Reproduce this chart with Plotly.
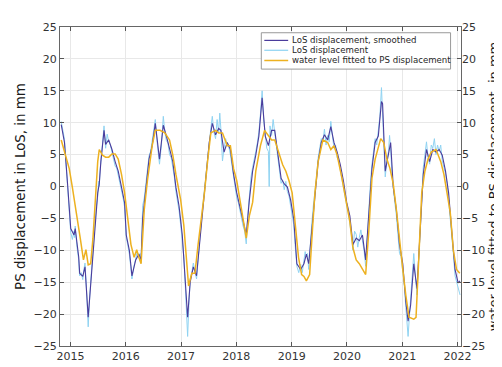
import plotly.graph_objects as go

# ---- data (decimal years, mm) ----
smooth_t = [2014.833, 2014.892, 2014.948, 2015.005, 2015.064, 2015.086, 2015.149, 2015.167, 2015.223, 2015.263,
            2015.321, 2015.378, 2015.435, 2015.493, 2015.521, 2015.550, 2015.607, 2015.636, 2015.692, 2015.751,
            2015.808, 2015.864, 2015.923, 2015.979, 2016.009, 2016.065, 2016.112, 2016.180, 2016.237, 2016.277,
            2016.306, 2016.363, 2016.421, 2016.478, 2016.534, 2016.610, 2016.679, 2016.735, 2016.792, 2016.851,
            2016.907, 2016.964, 2017.022, 2017.079, 2017.119, 2017.165, 2017.222, 2017.280, 2017.337, 2017.393,
            2017.452, 2017.509, 2017.565, 2017.624, 2017.680, 2017.720, 2017.778, 2017.835, 2017.892, 2017.950,
            2018.007, 2018.064, 2018.122, 2018.179, 2018.235, 2018.294, 2018.351, 2018.407, 2018.466, 2018.522,
            2018.579, 2018.637, 2018.694, 2018.751, 2018.809, 2018.866, 2018.923, 2018.981, 2019.038, 2019.094,
            2019.163, 2019.222, 2019.266, 2019.308, 2019.364, 2019.421, 2019.479, 2019.536, 2019.593, 2019.651,
            2019.708, 2019.765, 2019.823, 2019.880, 2019.936, 2019.995, 2020.052, 2020.108, 2020.167, 2020.223,
            2020.280, 2020.338, 2020.395, 2020.452, 2020.510, 2020.567, 2020.624, 2020.644, 2020.692, 2020.751,
            2020.790, 2020.837, 2020.893, 2020.950, 2021.009, 2021.065, 2021.105, 2021.151, 2021.208, 2021.266,
            2021.323, 2021.380, 2021.438, 2021.495, 2021.552, 2021.610, 2021.667, 2021.723, 2021.782, 2021.838,
            2021.895, 2021.954, 2022.010, 2022.045]
smooth_v = [9.7, 6.9, 0.4, -6.6, -7.6, -6.6, -11.0, -13.6, -14.1, -12.6,
            -20.5, -13.6, -7.0, -1.0, 0.4, 3.9, 8.8, 6.6, 7.3, 5.8,
            3.9, 2.4, -0.1, -2.5, -7.6, -10.0, -14.0, -11.5, -10.6, -11.5,
            -5.0, -0.1, 4.3, 6.4, 9.9, 4.3, 9.6, 7.9, 5.8, 3.9,
            -0.1, -3.1, -7.6, -15.0, -20.5, -15.0, -12.6, -14.0, -8.5, -3.6,
            1.3, 6.9, 9.9, 8.1, 9.1, 8.8, 5.4, 6.9, 5.8, 1.9,
            -1.0, -3.1, -5.5, -7.6, -2.1, 2.4, 4.9, 7.9, 13.9, 7.9,
            6.4, 8.8, 8.8, 5.4, 1.3, 0.4, -0.1, -2.1, -5.1, -12.1,
            -13.0, -12.1, -10.6, -12.1, -6.6, -2.1, 3.9, 6.9, 8.1, 7.3,
            9.4, 6.9, 5.4, 3.4, 0.9, -2.5, -4.6, -9.1, -8.1, -8.5,
            -7.6, -11.5, -3.6, 2.8, 6.9, 7.9, 13.3, 13.0, 2.4, 4.9,
            6.9, -0.1, -3.6, -9.1, -12.1, -18.1, -21.1, -18.6, -12.1, -16.0,
            -7.0, 1.9, 5.8, 3.9, 5.8, 5.4, 5.8, 4.9, 2.4, -1.0,
            -7.0, -13.0, -15.1, -14.8]

raw_t = [2014.833, 2014.862, 2014.892, 2014.920, 2014.948, 2014.977, 2015.005, 2015.035, 2015.064, 2015.075,
         2015.086, 2015.118, 2015.149, 2015.158, 2015.167, 2015.195, 2015.223, 2015.243, 2015.263, 2015.292,
         2015.321, 2015.350, 2015.378, 2015.406, 2015.435, 2015.464, 2015.493, 2015.507, 2015.521, 2015.535,
         2015.550, 2015.578, 2015.607, 2015.621, 2015.636, 2015.664, 2015.692, 2015.722, 2015.751, 2015.780,
         2015.808, 2015.836, 2015.864, 2015.894, 2015.923, 2015.951, 2015.979, 2015.994, 2016.009, 2016.037,
         2016.065, 2016.089, 2016.112, 2016.146, 2016.180, 2016.208, 2016.237, 2016.257, 2016.277, 2016.292,
         2016.306, 2016.335, 2016.363, 2016.392, 2016.421, 2016.450, 2016.478, 2016.506, 2016.534, 2016.572,
         2016.610, 2016.645, 2016.679, 2016.707, 2016.735, 2016.763, 2016.792, 2016.822, 2016.851, 2016.879,
         2016.907, 2016.935, 2016.964, 2016.993, 2017.022, 2017.050, 2017.079, 2017.099, 2017.119, 2017.142,
         2017.165, 2017.193, 2017.222, 2017.251, 2017.280, 2017.308, 2017.337, 2017.365, 2017.393, 2017.422,
         2017.452, 2017.480, 2017.509, 2017.537, 2017.565, 2017.595, 2017.624, 2017.652, 2017.680, 2017.700,
         2017.720, 2017.749, 2017.778, 2017.806, 2017.835, 2017.864, 2017.892, 2017.921, 2017.950, 2017.978,
         2018.007, 2018.035, 2018.064, 2018.093, 2018.122, 2018.150, 2018.179, 2018.207, 2018.235, 2018.265,
         2018.294, 2018.322, 2018.351, 2018.379, 2018.407, 2018.437, 2018.466, 2018.494, 2018.522, 2018.550,
         2018.579, 2018.594, 2018.608, 2018.637, 2018.665, 2018.694, 2018.722, 2018.751, 2018.780, 2018.809,
         2018.837, 2018.866, 2018.894, 2018.923, 2018.952, 2018.981, 2019.009, 2019.038, 2019.066, 2019.094,
         2019.128, 2019.163, 2019.192, 2019.222, 2019.244, 2019.266, 2019.287, 2019.308, 2019.336, 2019.364,
         2019.392, 2019.421, 2019.450, 2019.479, 2019.507, 2019.536, 2019.565, 2019.593, 2019.622, 2019.651,
         2019.679, 2019.708, 2019.736, 2019.765, 2019.794, 2019.823, 2019.851, 2019.880, 2019.908, 2019.936,
         2019.966, 2019.995, 2020.023, 2020.052, 2020.080, 2020.108, 2020.137, 2020.167, 2020.195, 2020.223,
         2020.251, 2020.280, 2020.309, 2020.338, 2020.366, 2020.395, 2020.424, 2020.452, 2020.481, 2020.510,
         2020.538, 2020.567, 2020.595, 2020.624, 2020.644, 2020.668, 2020.692, 2020.722, 2020.751, 2020.770,
         2020.790, 2020.813, 2020.837, 2020.865, 2020.893, 2020.921, 2020.950, 2020.979, 2021.009, 2021.037,
         2021.065, 2021.085, 2021.105, 2021.128, 2021.151, 2021.180, 2021.208, 2021.237, 2021.266, 2021.294,
         2021.323, 2021.352, 2021.380, 2021.409, 2021.438, 2021.466, 2021.495, 2021.524, 2021.552, 2021.581,
         2021.610, 2021.638, 2021.667, 2021.695, 2021.723, 2021.752, 2021.782, 2021.810, 2021.838, 2021.866,
         2021.895, 2021.924, 2021.954, 2021.982, 2022.010, 2022.045]
raw_v = [10.2, 8.5, 7.4, 3.5, 0.0, -4.0, -7.2, -8.3, -7.0, -8.0,
         -6.2, -9.5, -11.5, -13.2, -14.0, -13.5, -14.6, -13.0, -12.0, -16.5,
         -22.0, -17.0, -13.0, -9.5, -6.5, -3.5, -1.5, 0.8, 0.0, 2.5,
         4.5, 6.5, 9.5, 7.0, 6.0, 8.2, 7.0, 6.5, 5.2, 4.5,
         3.2, 2.9, 1.8, 0.8, -0.6, -1.8, -3.2, -5.5, -8.0, -9.2,
         -10.6, -12.5, -14.5, -12.6, -11.0, -10.2, -11.0, -10.5, -12.0, -8.0,
         -3.0, -1.8, 0.5, 2.5, 4.8, 5.5, 7.0, 8.5, 10.5, 6.5,
         3.5, 6.5, 11.0, 8.5, 7.2, 6.8, 5.0, 4.5, 3.2, 1.5,
         -0.8, -2.0, -3.8, -6.0, -8.5, -11.0, -16.0, -19.0, -23.5, -18.5,
         -14.5, -13.5, -12.0, -13.2, -14.5, -11.5, -8.0, -5.5, -3.0, -0.5,
         1.8, 4.0, 7.5, 9.0, 11.0, 8.5, 7.5, 10.5, 8.5, 11.5,
         9.0, 4.0, 6.0, 7.5, 6.5, 6.2, 5.0, 3.2, 1.0, 0.0,
         -1.8, -2.5, -3.8, -4.5, -6.2, -7.0, -9.0, -4.5, -1.0, 1.5,
         3.0, 4.0, 5.5, 6.8, 8.5, 11.5, 15.0, 10.5, 8.5, 6.0,
         5.5, 0.0, 9.5, 8.0, 10.5, 8.0, 6.5, 4.5, 2.5, 0.5,
         1.0, -0.5, 0.8, -0.8, -1.5, -3.0, -4.0, -6.0, -9.5, -12.5,
         -13.5, -12.2, -13.5, -11.5, -10.2, -11.0, -10.5, -13.0, -9.0, -5.8,
         -3.0, -1.0, 1.5, 4.5, 6.0, 7.5, 7.0, 9.0, 6.5, 8.0,
         7.0, 10.2, 8.0, 6.0, 6.5, 4.5, 4.0, 2.5, 1.5, 0.0,
         -1.5, -3.0, -4.0, -5.5, -7.5, -10.0, -7.0, -7.5, -9.5, -8.0,
         -6.8, -8.5, -10.0, -12.5, -7.5, -2.5, 0.5, 3.5, 5.5, 7.5,
         6.5, 9.0, 11.0, 15.5, 12.0, 6.0, 1.5, 4.0, 5.5, 8.0,
         6.0, 2.0, -0.8, -2.5, -4.5, -7.0, -10.5, -11.0, -13.0, -15.5,
         -19.0, -21.5, -23.5, -20.5, -17.5, -14.0, -10.5, -14.0, -17.0, -12.0,
         -6.0, -1.5, 3.0, 5.0, 7.0, 4.5, 3.5, 6.5, 6.0, 7.5,
         5.0, 6.5, 5.5, 6.5, 4.0, 3.0, 2.0, 0.5, -2.0, -4.5,
         -8.0, -10.5, -14.0, -15.0, -16.0, -17.0]

water_t = [2014.833, 2014.892, 2014.978, 2015.034, 2015.120, 2015.177, 2015.235, 2015.280, 2015.321, 2015.366,
           2015.407, 2015.452, 2015.493, 2015.521, 2015.579, 2015.636, 2015.692, 2015.751, 2015.808, 2015.864,
           2015.923, 2015.979, 2016.036, 2016.094, 2016.151, 2016.198, 2016.237, 2016.277, 2016.335, 2016.392,
           2016.478, 2016.534, 2016.620, 2016.706, 2016.792, 2016.851, 2016.907, 2016.993, 2017.050, 2017.108,
           2017.136, 2017.194, 2017.251, 2017.308, 2017.366, 2017.423, 2017.479, 2017.538, 2017.624, 2017.680,
           2017.749, 2017.835, 2017.892, 2017.950, 2018.007, 2018.064, 2018.122, 2018.179, 2018.235, 2018.294,
           2018.351, 2018.436, 2018.510, 2018.579, 2018.637, 2018.694, 2018.780, 2018.837, 2018.895, 2018.952,
           2019.009, 2019.067, 2019.124, 2019.180, 2019.222, 2019.266, 2019.325, 2019.381, 2019.421, 2019.479,
           2019.565, 2019.651, 2019.708, 2019.765, 2019.823, 2019.909, 2019.995, 2020.052, 2020.108, 2020.167,
           2020.223, 2020.280, 2020.338, 2020.395, 2020.452, 2020.510, 2020.567, 2020.610, 2020.665, 2020.722,
           2020.778, 2020.837, 2020.893, 2020.950, 2021.009, 2021.065, 2021.122, 2021.208, 2021.249, 2021.294,
           2021.352, 2021.409, 2021.466, 2021.524, 2021.610, 2021.696, 2021.753, 2021.809, 2021.868, 2021.924,
           2021.981, 2022.040]
water_v = [7.3, 5.4, 2.8, -0.1, -4.6, -8.1, -11.5, -9.9, -12.3, -12.1,
           -8.1, -2.1, 3.9, 5.8, 4.9, 4.6, 4.6, 5.1, 5.1, 4.3,
           1.9, -1.0, -4.6, -9.1, -11.1, -9.9, -11.1, -12.1, -3.6, 0.9,
           6.4, 8.8, 8.8, 8.4, 7.3, 4.9, 1.9, -2.1, -6.1, -13.0,
           -15.6, -13.6, -13.6, -9.1, -5.1, -1.0, 3.9, 8.4, 8.8, 8.4,
           8.4, 6.4, 6.4, 2.8, 0.9, -2.1, -5.1, -8.1, -4.6, -2.5,
           2.4, 6.4, 8.8, 7.9, 7.3, 7.3, 4.9, 3.4, 2.4, 0.9,
           -1.0, -6.6, -11.1, -13.8, -14.1, -14.8, -13.8, -6.1, -1.0, 3.9,
           7.3, 6.9, 5.8, 6.4, 4.9, 1.3, -2.5, -5.5, -9.6, -11.5,
           -12.1, -13.0, -13.8, -7.0, 1.3, 4.3, 6.4, 7.5, 6.9, 4.3,
           2.8, 0.4, -3.6, -8.5, -13.0, -17.1, -20.5, -20.8, -20.5, -12.1,
           -1.0, 2.4, 4.3, 5.4, 5.8, 3.9, 1.9, -1.0, -4.1, -10.0,
           -13.0, -13.6]

year_ticks = [2015, 2016, 2017, 2018, 2019, 2020, 2021, 2022]
y_ticks = [-25, -20, -15, -10, -5, 0, 5, 10, 15, 20, 25]

names = ["LoS displacement, smoothed", "LoS displacement", "water level fitted to PS displacement"]
colors = ["#4b3c9c", "#8fd3f2", "#EDB120"]
left_title = "PS displacement in LoS, in mm"
right_title = "water level fitted to PS displacement, in mm"

# ---- figure ----
fig = go.Figure()
fig.add_trace(go.Scatter(x=raw_t, y=raw_v, mode="lines", name=names[1],
                         line=dict(color=colors[1], width=1)))
fig.add_trace(go.Scatter(x=smooth_t, y=smooth_v, mode="lines", name=names[0],
                         line=dict(color=colors[0], width=1.1)))
fig.add_trace(go.Scatter(x=water_t, y=water_v, mode="lines", name=names[2],
                         line=dict(color=colors[2], width=1.5), yaxis="y2"))

# compact legend box (drawn in paper coordinates)
shapes = [dict(type="rect", xref="paper", yref="paper", x0=0.502, x1=0.974, y0=0.868, y1=0.982,
               fillcolor="white", line=dict(color="#999999", width=1), layer="above")]
annotations = []
row_y = [0.958, 0.927, 0.895]
for name, col, yy in zip(names, colors, row_y):
    shapes.append(dict(type="line", xref="paper", yref="paper", x0=0.5095, x1=0.569, y0=yy, y1=yy,
                       line=dict(color=col, width=1.5 if col == colors[2] else 1.2), layer="above"))
    annotations.append(dict(xref="paper", yref="paper", x=0.574, y=yy, xanchor="left", yanchor="middle",
                            text=name, showarrow=False,
                            font=dict(family="DejaVu Sans", size=8.6, color="#262626")))

tickfont = dict(family="DejaVu Sans", size=11, color="#333333")
fig.update_layout(
    width=502, height=367,
    margin=dict(l=48, r=32, t=19, b=14),
    paper_bgcolor="white", plot_bgcolor="white",
    font=dict(family="DejaVu Sans", color="#262626"),
    showlegend=False,
    shapes=shapes, annotations=annotations,
    xaxis=dict(range=[2014.811, 2022.062], tickvals=year_ticks, ticktext=[str(t) for t in year_ticks],
               showgrid=True, gridcolor="#e8e8e8", gridwidth=1,
               ticks="inside", ticklen=4, tickcolor="#555555",
               showline=True, linecolor="#666666", linewidth=1, mirror="ticks",
               tickfont=tickfont, zeroline=False),
    yaxis=dict(range=[-25, 25], tickvals=y_ticks, showgrid=True, gridcolor="#e8e8e8",
               ticks="inside", ticklen=4, tickcolor="#555555",
               showline=True, linecolor="#666666", linewidth=1, mirror="ticks",
               tickfont=tickfont, zeroline=False,
               title=dict(text=left_title, font=dict(size=13.4, color="#1a1a1a"), standoff=4)),
    yaxis2=dict(range=[-25, 25], tickvals=y_ticks, overlaying="y", side="right",
                showgrid=False, ticks="inside", ticklen=4, tickcolor="#555555",
                showline=False, tickfont=tickfont, zeroline=False,
                title=dict(text=right_title, font=dict(size=13, color="#1a1a1a"), standoff=4)),
)

fig.write_html("out.html")
